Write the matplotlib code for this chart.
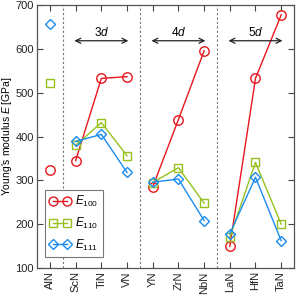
import numpy as np
import matplotlib
matplotlib.use("Agg")
import matplotlib.pyplot as plt

plt.rcParams['font.family'] = ['Liberation Sans', 'DejaVu Sans']
plt.rcParams['mathtext.fontset'] = 'custom'
plt.rcParams['mathtext.rm'] = 'Liberation Sans'
plt.rcParams['mathtext.it'] = 'Liberation Sans:italic'
plt.rcParams['font.size'] = 8

# 材料及杨氏模量数据
materials = ["AlN", "ScN", "TiN", "VN", "YN", "ZrN", "NbN", "LaN", "HfN", "TaN"]
E100 = [324, 345, 533, 537, 285, 439, 596, 149, 533, 678]
E110 = [523, 380, 432, 356, 295, 329, 248, 170, 341, 200]
E111 = [657, 389, 405, 318, 296, 303, 208, 178, 307, 162]

groups = [[0], [1, 2, 3], [4, 5, 6], [7, 8, 9]]
group_labels = ["", "3d", "4d", "5d"]

series = [
    (E100, "o", "#e8161e", r"$E_{100}$"),
    (E110, "s", "#96c11f", r"$E_{110}$"),
    (E111, "D", "#1a8cf0", r"$E_{111}$"),
]

fig = plt.figure(figsize=(2.97, 2.95), dpi=100)
ax = fig.add_axes([0.125, 0.092, 0.865, 0.89])

x = np.arange(len(materials))
for vals, mk, col, lab in series:
    vals = np.array(vals)
    ms = 6.8 if mk == "o" else (6 if mk == "s" else 5.5)
    for k, g in enumerate(groups):
        ax.plot(x[g], vals[g], marker=mk, color=col, mfc="none", mec=col,
                ms=ms, lw=1.0, mew=1.0, label=lab if k == 1 else None, zorder=3)

# 分隔虚线
for b in [0.5, 3.5, 6.5]:
    ax.axvline(b, color="#777777", ls=(0, (2, 2)), lw=0.8, zorder=1)

# 箭头及标签
for g, t in zip(groups[1:], group_labels[1:]):
    ax.annotate("", xy=(g[0] - 0.05, 619), xytext=(g[-1] + 0.05, 619),
                arrowprops=dict(arrowstyle="<->", color="#222222", lw=0.9,
                                mutation_scale=9, shrinkA=0, shrinkB=0))
    ax.text(np.mean(g), 624, "$" + t[0] + "d$", ha="center", va="bottom", fontsize=8.5)

ax.set_xlim(-0.5, 9.5)
ax.set_ylim(100, 700)
ax.set_xticks(x)
ax.set_xticklabels(materials, rotation=90)
ax.set_yticks(np.arange(100, 701, 100))
ax.set_ylabel("Young's modulus $E$ [GPa]", fontsize=7.5, labelpad=1)
ax.tick_params(direction="in", top=True, right=True, length=4, width=0.8,
               colors="#444444", labelcolor="#222222", pad=2.5)
for s in ax.spines.values():
    s.set_color("#555555")
    s.set_linewidth(0.9)

leg = ax.legend(loc="lower left", bbox_to_anchor=(0.03, 0.04), borderaxespad=0,
                fontsize=8.5, numpoints=2, markerscale=0.95, frameon=True,
                fancybox=False, framealpha=1, edgecolor="#777777",
                handlelength=1.75, handletextpad=0.4, borderpad=0.4,
                labelspacing=0.55)
leg.get_frame().set_linewidth(0.8)
leg.set_zorder(5)

fig.savefig("out.png", dpi=100)
